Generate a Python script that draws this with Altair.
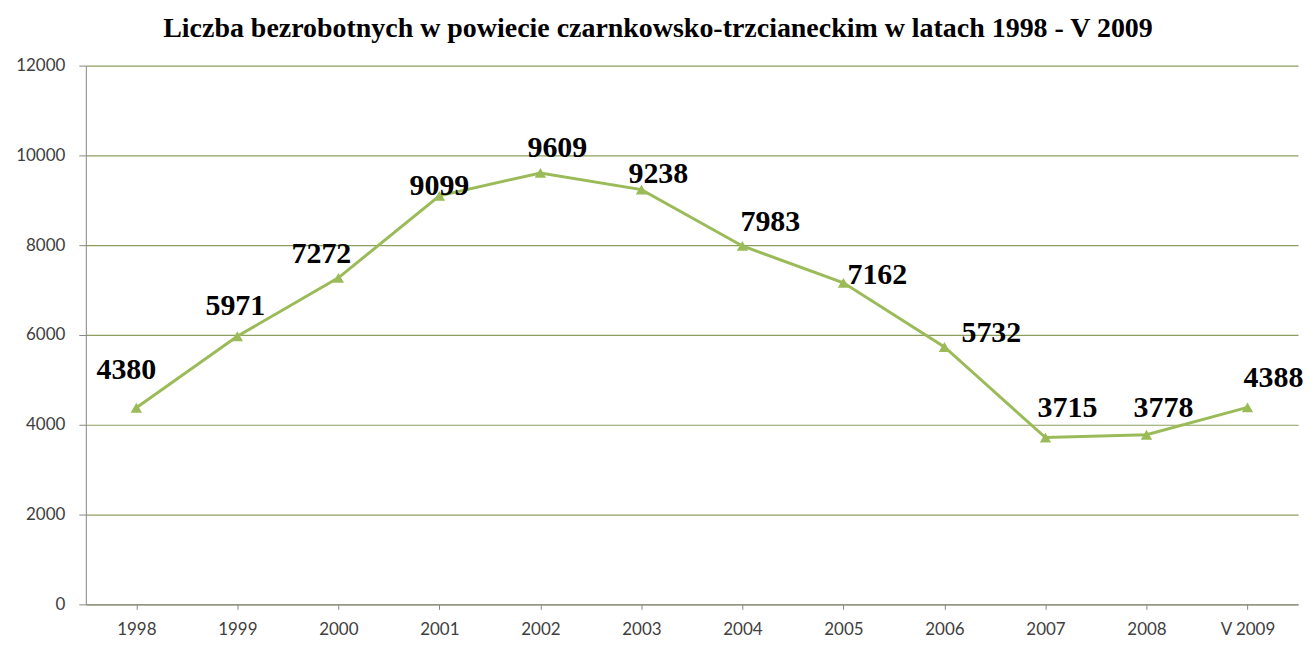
import altair as alt
import pandas as pd

# data
categories = ["1998", "1999", "2000", "2001", "2002", "2003", "2004", "2005", "2006", "2007", "2008", "V 2009"]
values = [4380, 5971, 7272, 9099, 9609, 9238, 7983, 7162, 5732, 3715, 3778, 4388]
y_ticks = [0, 2000, 4000, 6000, 8000, 10000, 12000]

df = pd.DataFrame({"rok": categories, "liczba": values})

# label placement (style config)
label_offsets = [(-10, -38), (-2, -30), (-17, -24), (0, -10), (17, -25), (17, -16),
                 (28, -24), (34, -8), (47, -14), (22, -30), (17, -27), (26, -29)]

GREEN = "#9bbb59"
GRID = "#8c9e5e"
AXIS = "#868686"

x_enc = alt.X("rok:N", sort=categories, title=None,
              scale=alt.Scale(paddingInner=0, paddingOuter=0),
              axis=alt.Axis(labelAngle=0, bandPosition=0, tickSize=5, tickColor=AXIS,
                            domainColor=AXIS, labelFont="Lato", labelFontSize=17,
                            labelColor="#404040", labelPadding=12, grid=False))
y_enc = alt.Y("liczba:Q", title=None,
              scale=alt.Scale(domain=[0, 12000], nice=False),
              axis=alt.Axis(values=y_ticks, format="d", tickSize=7, tickColor=AXIS,
                            domainColor=AXIS, labelFont="Lato", labelFontSize=17,
                            labelColor="#404040", labelPadding=14,
                            grid=True, gridColor=GRID, gridWidth=1.2))

base = alt.Chart(df)
line = base.mark_line(color=GREEN, strokeWidth=3).encode(x=x_enc, y=y_enc)
pts = base.mark_point(shape="triangle-up", filled=True, opacity=1, color=GREEN, size=130).encode(
    x=alt.X("rok:N", sort=categories), y="liczba:Q")

layers = [line, pts]
for cat, (dx, dy) in zip(categories, label_offsets):
    layers.append(
        base.transform_filter(alt.datum.rok == cat).mark_text(
            font="Liberation Serif", fontWeight="bold", fontSize=30, color="black",
            align="center", baseline="middle", dx=dx, dy=dy
        ).encode(x=alt.X("rok:N", sort=categories), y="liczba:Q", text="liczba:Q")
    )

chart = alt.layer(*layers).properties(
    width=1215, height=540,
    padding={"left": 7, "top": 6, "right": 2, "bottom": 0},
    title=alt.TitleParams(
        "Liczba bezrobotnych w powiecie czarnkowsko-trzcianeckim w latach 1998 - V 2009",
        font="Liberation Serif", fontSize=28, fontWeight="bold", color="black",
        anchor="middle", offset=22, dy=8, dx=-34),
).configure_view(stroke=None).configure_axis(labelFontWeight="normal")

chart.save("out.html", embed_options={"renderer": "svg", "actions": False})
